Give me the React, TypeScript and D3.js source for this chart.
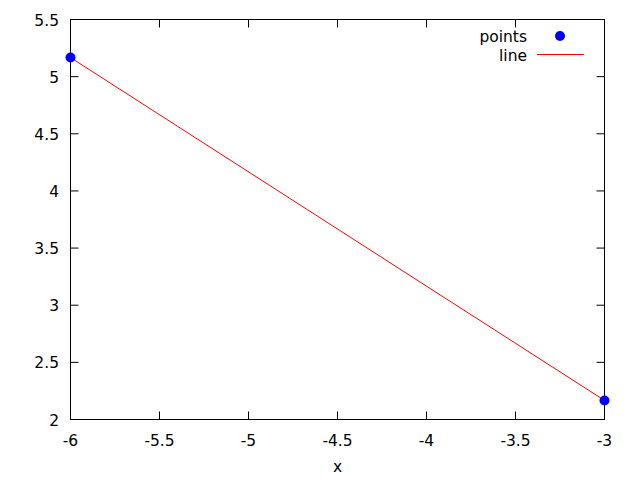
import React from "react";
import * as d3 from "d3";

const xs = [-6, -3];
const ys = [5.167, 2.167];
const xTicks = [-6, -5.5, -5, -4.5, -4, -3.5, -3];
const yTicks = [2, 2.5, 3, 3.5, 4, 4.5, 5, 5.5];
const xLabel = "x";
const legendLabels = ["points", "line"];

export default function App() {
  const W = 640, H = 480;
  const L = 70.5, R = 604.5, T = 19.5, B = 419.5;
  const x = d3.scaleLinear().domain([-6, -3]).range([L, R]);
  const y = d3.scaleLinear().domain([2, 5.5]).range([B, T]);
  const line = d3.line<number>().x((_, i) => x(xs[i])).y((d) => y(d));
  const tl = 8;
  const fs = 15.5;
  const font = "DejaVu Sans, sans-serif";
  return (
    <svg width={W} height={H} style={{ position: "absolute", left: 0, top: 0, background: "#fff" }} fontFamily={font}>
      <rect x={0} y={0} width={W} height={H} fill="#fff" />
      {xTicks.map((t) => (
        <g key={"x" + t}>
          <line x1={x(t)} x2={x(t)} y1={B} y2={B - tl} stroke="#000" />
          <line x1={x(t)} x2={x(t)} y1={T} y2={T + tl} stroke="#000" />
          <text x={x(t)} y={446} textAnchor="middle" fontSize={fs}>{t}</text>
        </g>
      ))}
      {yTicks.map((t) => (
        <g key={"y" + t}>
          <line x1={L} x2={L + tl} y1={y(t)} y2={y(t)} stroke="#000" />
          <line x1={R} x2={R - tl} y1={y(t)} y2={y(t)} stroke="#000" />
          <text x={59} y={y(t) + 6} textAnchor="end" fontSize={fs}>{t}</text>
        </g>
      ))}
      <rect x={L} y={T} width={R - L} height={B - T} fill="none" stroke="#000" />
      <text x={(L + R) / 2} y={472} textAnchor="middle" fontSize={fs}>{xLabel}</text>
      <path d={line(ys) || ""} fill="none" stroke="#ff0000" strokeWidth={1} />
      {ys.map((v, i) => (
        <circle key={i} cx={x(xs[i])} cy={y(v)} r={5} fill="#0000ff" />
      ))}
      <text x={527} y={42} textAnchor="end" fontSize={fs}>{legendLabels[0]}</text>
      <circle cx={560} cy={36} r={5} fill="#0000ff" />
      <text x={527} y={61} textAnchor="end" fontSize={fs}>{legendLabels[1]}</text>
      <line x1={537} x2={584} y1={54.5} y2={54.5} stroke="#ff0000" strokeWidth={1} />
    </svg>
  );
}
